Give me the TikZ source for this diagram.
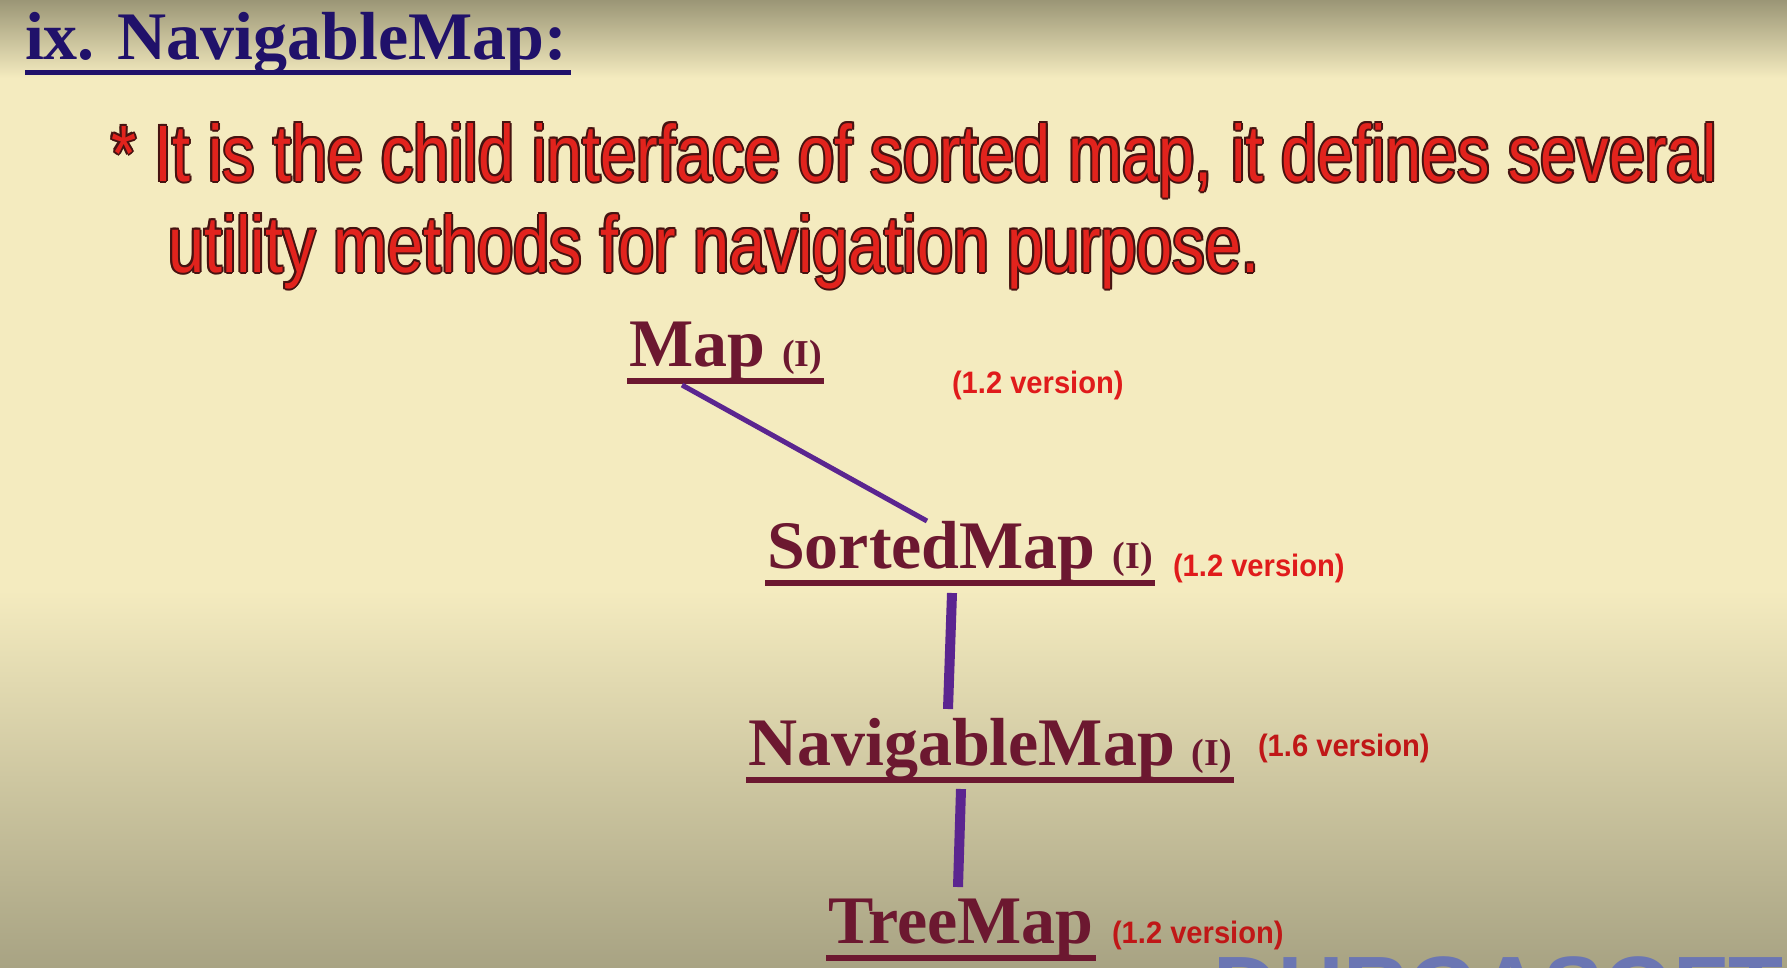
\documentclass[tikz,border=0pt]{standalone}
\usepackage{fontspec}
\setmainfont{Liberation Serif}
\newfontfamily\narrowsans[FakeStretch=0.81]{Liberation Sans}
\newfontfamily\versans[FakeStretch=0.94]{Liberation Sans}
\newfontfamily\plainsans{Liberation Sans}
\definecolor{cream}{HTML}{F4EBBF}
\definecolor{topc}{HTML}{9B9676}
\definecolor{botc}{HTML}{A8A383}
\definecolor{navy}{HTML}{20116A}
\definecolor{maroon}{HTML}{6C1830}
\definecolor{bulletred}{HTML}{E2231D}
\definecolor{olc}{HTML}{451311}
\definecolor{verred}{HTML}{E01B1B}
\definecolor{verdark}{HTML}{C01717}
\definecolor{linkpurple}{HTML}{5B2590}
\definecolor{wmblue}{HTML}{6B76B3}
\newcommand\outl[1]{\leavevmode
 \rlap{\color{olc}\kern-2pt #1}%
 \rlap{\color{olc}\kern2pt #1}%
 \rlap{\color{olc}\raisebox{2pt}{#1}}%
 \rlap{\color{olc}\raisebox{-2pt}{#1}}%
 \rlap{\color{olc}\kern-1.4pt\raisebox{1.4pt}{#1}}%
 \rlap{\color{olc}\kern1.4pt\raisebox{1.4pt}{#1}}%
 \rlap{\color{olc}\kern-1.4pt\raisebox{-1.4pt}{#1}}%
 \rlap{\color{olc}\kern1.4pt\raisebox{-1.4pt}{#1}}%
 {\color{bulletred}#1}}
\newcommand\iface{{\fontsize{38pt}{38pt}\selectfont (I)}}
\begin{document}
\begin{tikzpicture}[x=1pt,y=-1pt,
  titlebox/.style={inner sep=0pt,outer sep=0pt,anchor=base west,text=navy,
    font=\fontsize{68pt}{68pt}\selectfont\bfseries},
  bullettext/.style={inner sep=0pt,outer sep=0pt,anchor=base west,
    font=\narrowsans\fontsize{80pt}{80pt}\selectfont},
  classbox/.style={inner sep=0pt,outer sep=0pt,anchor=base west,text=maroon,
    font=\fontsize{68pt}{68pt}\selectfont\bfseries},
  verlabel/.style={inner sep=0pt,outer sep=0pt,anchor=base west,text=verred,
    font=\versans\bfseries\fontsize{31pt}{31pt}\selectfont},
  uline/.style={draw=maroon,line width=6pt},
  link/.style={draw=linkpurple,line width=#1},
  link/.default=10pt]
\useasboundingbox (0,0) rectangle (1787,967);
% background
\fill[cream] (0,0) rectangle (1787,967);
\shade[top color=topc,bottom color=cream] (0,0) rectangle (1787,78);
\shade[top color=cream,bottom color=botc] (0,590) rectangle (1787,967);
% watermark (behind the content)
\begin{scope}
\clip (0,0) rectangle (1787,967);
\node[inner sep=0pt,anchor=base west,text=wmblue,font=\plainsans\bfseries\fontsize{90pt}{90pt}\selectfont] (wm) at (1213,1019) {DURGASOFT};
\end{scope}
% title
\node[titlebox] (title) at (25,59) {ix. NavigableMap:};
\draw[draw=navy,line width=5pt] ([shift={(0,13)}]title.base west) -- ([shift={(4,13)}]title.base east);
% bullet
\node[bullettext] (line1) at (111,181) {\outl{* It is the child interface of sorted map, it defines several}};
\node[bullettext] (line2) at (168,272) {\outl{utility methods for navigation purpose.}};
% classes
\node[classbox] (map) at (629,366) {Map \iface};
\node[classbox] (sorted) at (767,568) {SortedMap \iface};
\node[classbox] (navig) at (748,765) {NavigableMap \iface};
\node[classbox] (tree) at (828,943) {TreeMap};
\foreach \n in {map,sorted,navig,tree}
  \draw[uline] ([shift={(-2,15)}]\n.base west) -- ([shift={(2,15)}]\n.base east);
% version labels
\node[verlabel] (vmap) at (952,393) {(1.2 version)};
\node[verlabel] (vsorted) at (1173,576) {(1.2 version)};
\node[verlabel,text=verdark] (vnavig) at (1258,756) {(1.6 version)};
\node[verlabel,text=verdark] (vtree) at (1112,943) {(1.2 version)};
% connectors
\draw[link=5pt] ([shift={(53,19)}]map.base west) -- ([shift={(160,-47)}]sorted.base west);
\draw[link] ([shift={(185,25)}]sorted.base west) -- ([shift={(200,-56)}]navig.base west);
\draw[link] ([shift={(213,24)}]navig.base west) -- ([shift={(130,-56)}]tree.base west);
\end{tikzpicture}
\end{document}
